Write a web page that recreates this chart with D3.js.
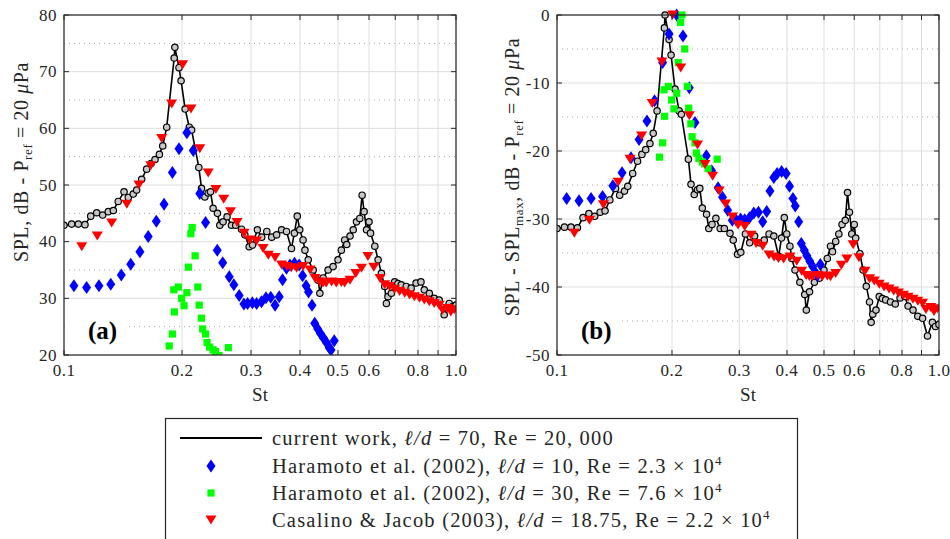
<!DOCTYPE html>
<html><head><meta charset="utf-8">
<script src="https://cdn.jsdelivr.net/npm/d3@7"></script>
<style>body{margin:0;background:#fff}svg{display:block}text{font-family:"Liberation Serif","DejaVu Serif",serif;fill:#262626}</style>
</head><body><svg id="c" width="950" height="539"></svg>
<script>
// ---------- DATA ----------
const stTicks = [0.1,0.2,0.3,0.4,0.5,0.6,0.7,0.8,0.9,1.0];
const stTickLabels = ["0.1","0.2","0.3","0.4","0.5","0.6","","0.8","","1.0"];
const yTicksA = [20,30,40,50,60,70,80];
const yTicksB = [-50,-40,-30,-20,-10,0];

// current work, l/d = 70, Re = 20,000  (SPL, dB)
const curSt = [0.100,0.1046,0.1088,0.1131,0.1170,0.1212,0.1255,0.1297,0.1336,0.1375,0.1423,0.1459,0.1502,0.1532,0.1578,0.1625,0.1668,0.1707,0.1751,0.1786,0.1828,0.1910,0.1918,0.1965,0.1989,0.2037,0.2088,0.2116,0.2208,0.2243,0.2287,0.2333,0.2365,0.2401,0.2463,0.2497,0.2546,0.2606,0.2674,0.2742,0.2837,0.2893,0.2968,0.3028,0.3113,0.3194,0.3291,0.3387,0.3487,0.3590,0.3695,0.3804,0.3870,0.3936,0.3994,0.4072,0.4118,0.4198,0.4323,0.4451,0.4495,0.4582,0.4718,0.4858,0.5000,0.5100,0.5200,0.5263,0.5366,0.5468,0.5574,0.5683,0.5761,0.5829,0.5911,0.6001,0.6053,0.6207,0.6328,0.6452,0.6579,0.6644,0.6707,0.6840,0.6975,0.7110,0.7252,0.7465,0.7684,0.7910,0.8140,0.8300,0.8550,0.8800,0.9060,0.9330,0.9610,0.9790,1.0000];
const curSpl = [42.9,43.1,43.1,43.0,44.5,45.1,44.7,45.3,45.5,47.1,48.8,47.8,48.4,49.1,51.0,52.8,53.8,54.5,55.4,56.9,60.2,72.4,74.3,70.7,68.4,63.4,60.2,59.7,53.1,49.4,47.9,48.6,48.8,45.9,45.0,42.9,43.5,44.4,42.9,42.9,42.2,41.2,39.1,39.4,42.1,40.8,41.8,40.8,41.2,42.1,41.8,38.8,41.5,44.5,42.1,40.3,38.5,36.8,35.0,33.2,30.9,33.6,35.0,35.6,36.8,38.5,40.3,39.5,41.0,42.1,43.5,44.1,48.2,45.3,42.1,43.5,41.5,39.2,36.8,34.4,32.1,29.1,30.3,30.9,32.9,32.6,32.4,32.1,31.8,32.7,32.9,31.5,30.9,30.0,29.7,27.1,29.1,28.5,28.8];

// Haramoto et al. (2002), l/d = 10
const har10St = [0.1060,0.1142,0.1228,0.1316,0.1400,0.1480,0.1562,0.1640,0.1720,0.1800,0.1890,0.1965,0.2058,0.2137,0.2220,0.2297,0.2460,0.2540,0.2640,0.2712,0.2798,0.2877,0.2940,0.3024,0.3100,0.3190,0.3275,0.3368,0.3455,0.3540,0.3610,0.3694,0.3770,0.3873,0.3980,0.4061,0.4146,0.4205,0.4292,0.4360,0.4440,0.4510,0.4590,0.4670,0.4750,0.4800,0.4890];
const har10Spl = [32.2,31.9,32.2,32.5,34.1,36.0,38.2,40.9,43.6,46.6,52.2,56.4,59.2,56.1,48.5,43.4,38.5,36.3,33.8,32.4,30.5,29.0,29.1,29.2,29.1,29.4,30.1,30.2,28.8,30.3,33.3,35.3,35.9,36.2,35.9,34.0,32.2,31.1,28.8,25.6,24.6,23.8,23.0,22.2,21.3,20.9,22.5];

// Haramoto et al. (2002), l/d = 30
const har30St = [0.1855,0.1890,0.1906,0.1913,0.1957,0.1995,0.2024,0.2058,0.2077,0.2107,0.2123,0.2160,0.2195,0.2212,0.2241,0.2258,0.2297,0.2317,0.2352,0.2401,0.2434,0.2486,0.2626];
const har30Spl = [21.6,23.7,31.5,27.6,32.0,30.0,28.7,31.0,35.5,41.4,42.5,37.5,32.0,28.8,26.5,24.6,23.7,22.2,21.4,20.9,20.6,19.9,21.3];

// Casalino & Jacob (2003), l/d = 18.75
const casSt = [0.1110,0.1216,0.1323,0.1446,0.1553,0.1665,0.1775,0.1882,0.2008,0.2108,0.2220,0.2333,0.2440,0.2555,0.2659,0.2763,0.2880,0.2979,0.3100,0.3220,0.3320,0.3455,0.3590,0.3700,0.3800,0.3920,0.4072,0.4243,0.4370,0.4490,0.4580,0.4665,0.4816,0.4950,0.5100,0.5200,0.5366,0.5550,0.5740,0.5960,0.6170,0.6400,0.6580,0.6770,0.6975,0.7180,0.7400,0.7610,0.7830,0.8070,0.8300,0.8550,0.8800,0.9060,0.9240,0.9510,0.9700,0.9900];
const casSpl = [39.1,41.0,43.3,46.6,50.0,53.4,58.2,64.3,71.2,63.4,56.4,52.1,49.2,47.5,45.3,43.4,41.5,40.3,40.1,38.8,37.6,37.2,35.9,35.6,35.4,35.3,35.6,35.0,33.5,32.9,32.7,32.7,32.9,32.7,32.8,32.7,33.2,34.4,35.3,37.4,35.5,33.5,32.4,32.1,31.6,31.2,30.9,30.6,30.3,30.0,29.7,29.4,29.1,28.8,27.9,28.2,27.6,28.0];

// ---------- DRAW ----------
const svg = d3.select("#c");
const AX = "#262626";
const zip = (xs, ys) => xs.map((x,i)=>({x, y: ys[i]}));
const norm = (xs, ys) => { const m = d3.max(ys); return zip(xs, ys.map(v => v - m)); };

const diamond = "M0,-6.5L4.5,0L0,6.5L-4.5,0Z";
const square = "M-3.6,-3.6H3.6V3.6H-3.6Z";
const tri = "M-5.5,-4.5H5.5L0,4.5Z";

function panel(id, box, ydom, yTicks, series, label, ylabelParts, ylabX, ylabY) {
  const x = d3.scaleLog().domain([0.1,1]).range([box.x0, box.x1]);
  const y = d3.scaleLinear().domain(ydom).range([box.y1, box.y0]);
  const g = svg.append("g");
  g.append("clipPath").attr("id","clip"+id).append("rect")
    .attr("x",box.x0).attr("y",box.y0-8).attr("width",box.x1-box.x0).attr("height",box.y1-box.y0+8);
  // grid
  const minor = d3.range(ydom[0]+5, ydom[1], 10);
  g.selectAll(".mg").data(minor).enter().append("line")
    .attr("x1",box.x0).attr("x2",box.x1).attr("y1",d=>y(d)).attr("y2",d=>y(d))
    .attr("stroke","#a8a8a8").attr("stroke-width",1).attr("stroke-dasharray","1,4");
  g.selectAll(".gy").data(yTicks).enter().append("line")
    .attr("x1",box.x0).attr("x2",box.x1).attr("y1",d=>y(d)).attr("y2",d=>y(d))
    .attr("stroke","#dedede").attr("stroke-width",1);
  g.selectAll(".gx").data(stTicks).enter().append("line")
    .attr("y1",box.y0).attr("y2",box.y1).attr("x1",d=>x(d)).attr("x2",d=>x(d))
    .attr("stroke","#dedede").attr("stroke-width",1);

  // panel label box
  g.append("rect").attr("x",box.x0+1).attr("y",box.y1-42).attr("width",63).attr("height",41).attr("fill","#fff");
  g.append("text").attr("x",box.x0+24).attr("y",box.y1-16).attr("font-size",25).attr("font-weight","bold")
    .style("fill","#000").text(label);

  const d = g.append("g").attr("clip-path","url(#clip"+id+")");
  // current work
  const cur = series[0];
  d.append("path").datum(cur).attr("fill","none").attr("stroke","#000").attr("stroke-width",1.6)
    .attr("stroke-linejoin","round")
    .attr("d", d3.line().x(p=>x(p.x)).y(p=>y(p.y)));
  d.selectAll(".cm").data(cur).enter().append("circle")
    .attr("cx",p=>x(p.x)).attr("cy",p=>y(p.y)).attr("r",3.2)
    .attr("fill","#c8c8c8").attr("stroke","#000").attr("stroke-width",1.2);
  const styles = [[diamond,"#0000ff"],[square,"#00ff00"],[tri,"#ff0000"]];
  series.slice(1).forEach((s,k)=>{
    d.selectAll(".s"+k).data(s).enter().append("path")
      .attr("d",styles[k][0]).attr("fill",styles[k][1])
      .attr("transform",p=>`translate(${x(p.x)},${y(p.y)})`);
  });

  // axes box
  g.append("rect").attr("x",box.x0).attr("y",box.y0).attr("width",box.x1-box.x0).attr("height",box.y1-box.y0)
    .attr("fill","none").attr("stroke",AX).attr("stroke-width",1.2);
  const tl = 5;
  stTicks.forEach(t=>{
    g.append("line").attr("x1",x(t)).attr("x2",x(t)).attr("y1",box.y1).attr("y2",box.y1-tl).attr("stroke",AX);
    g.append("line").attr("x1",x(t)).attr("x2",x(t)).attr("y1",box.y0).attr("y2",box.y0+tl).attr("stroke",AX);
  });
  yTicks.forEach(t=>{
    g.append("line").attr("x1",box.x0).attr("x2",box.x0+tl).attr("y1",y(t)).attr("y2",y(t)).attr("stroke",AX);
    g.append("line").attr("x1",box.x1).attr("x2",box.x1-tl).attr("y1",y(t)).attr("y2",y(t)).attr("stroke",AX);
  });
  // tick labels
  g.selectAll(".xl").data(stTicks).enter().append("text")
    .attr("x",d=>x(d)).attr("y",box.y1+21).attr("text-anchor","middle").attr("font-size",17)
    .attr("letter-spacing",0.5).text((d,i)=>stTickLabels[i]);
  g.selectAll(".yl").data(yTicks).enter().append("text")
    .attr("x",box.x0-7).attr("y",d=>y(d)+5.5).attr("text-anchor","end").attr("font-size",17)
    .attr("letter-spacing",0.5).text(d=>d);
  g.append("text").attr("x",(box.x0+box.x1)/2).attr("y",box.y1+46).attr("text-anchor","middle")
    .attr("font-size",19).text("St");
  // y label
  const yl = g.append("text").attr("transform",`translate(${ylabX},${ylabY}) rotate(-90)`)
    .attr("text-anchor","middle").attr("font-size",20).attr("letter-spacing",0.6);
  ylabelParts.forEach(p=>{
    const t = yl.append("tspan").text(p.t);
    if (p.sub) t.attr("font-size",13).attr("dy",4);
    if (p.back) t.attr("dy",-4);
    if (p.it) t.attr("font-style","italic");
  });
}

const boxA = {x0:64, x1:456, y0:15, y1:355};
const boxB = {x0:557, x1:939, y0:15, y1:355};

panel("a", boxA, [20,80], yTicksA,
  [zip(curSt,curSpl), zip(har10St,har10Spl), zip(har30St,har30Spl), zip(casSt,casSpl)],
  "(a)",
  [{t:"SPL, dB - P"},{t:"ref",sub:true},{t:" = 20 ",back:true},{t:"μ",it:true},{t:"Pa"}], 28, 162);

panel("b", boxB, [-50,0], yTicksB,
  [norm(curSt,curSpl), norm(har10St,har10Spl), norm(har30St,har30Spl), norm(casSt,casSpl)],
  "(b)",
  [{t:"SPL - SPL"},{t:"max",sub:true},{t:", dB - P",back:true},{t:"ref",sub:true},{t:" = 20 ",back:true},{t:"μ",it:true},{t:"Pa"}], 519, 177);

// ---------- LEGEND ----------
const lg = svg.append("g");
lg.append("rect").attr("x",165.5).attr("y",418.5).attr("width",632).attr("height",140)
  .attr("fill","#fff").attr("stroke",AX).attr("stroke-width",1.2);
const rows = [
  {y:438, kind:"line", parts:[{t:"current work, "},{t:"ℓ/d",it:true},{t:" = 70, Re = 20, 000"}]},
  {y:466, kind:diamond, color:"#0000ff", parts:[{t:"Haramoto et al. (2002), "},{t:"ℓ/d",it:true},{t:" = 10, Re = 2.3 × 10"},{t:"4",sup:true}]},
  {y:493, kind:square, color:"#00ff00", parts:[{t:"Haramoto et al. (2002), "},{t:"ℓ/d",it:true},{t:" = 30, Re = 7.6 × 10"},{t:"4",sup:true}]},
  {y:520, kind:tri, color:"#ff0000", parts:[{t:"Casalino & Jacob (2003), "},{t:"ℓ/d",it:true},{t:" = 18.75, Re = 2.2 × 10"},{t:"4",sup:true}]}
];
rows.forEach(r=>{
  if (r.kind==="line") {
    lg.append("line").attr("x1",180).attr("x2",262).attr("y1",r.y).attr("y2",r.y).attr("stroke","#000").attr("stroke-width",2);
  } else {
    lg.append("path").attr("d",r.kind).attr("fill",r.color).attr("transform",`translate(211,${r.y})`);
  }
  const t = lg.append("text").attr("x",272).attr("y",r.y+6.5).attr("font-size",20.5).attr("letter-spacing",1.2);
  r.parts.forEach(p=>{
    const s = t.append("tspan").text(p.t);
    if (p.it) s.attr("font-style","italic");
    if (p.sup) s.attr("font-size",13).attr("dy",-8);
  });
});
</script></body></html>
